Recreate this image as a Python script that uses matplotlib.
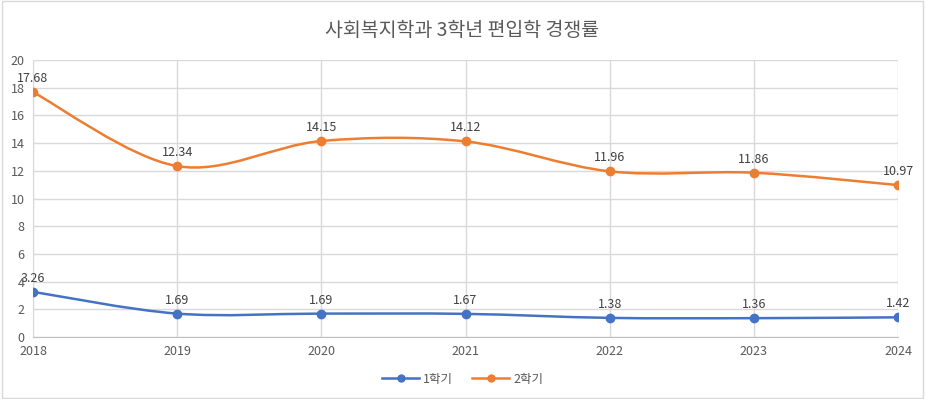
import matplotlib
matplotlib.use("Agg")
import matplotlib.pyplot as plt
from matplotlib.path import Path
from matplotlib.patches import PathPatch, Rectangle
from matplotlib.lines import Line2D
import numpy as np

plt.rcParams['font.family'] = ['Noto Sans CJK KR', 'DejaVu Sans']

# data
years = [2018, 2019, 2020, 2021, 2022, 2023, 2024]
sem1 = [3.26, 1.69, 1.69, 1.67, 1.38, 1.36, 1.42]
sem2 = [17.68, 12.34, 14.15, 14.12, 11.96, 11.86, 10.97]
series_names = ["1학기", "2학기"]
colors = ["#4472C4", "#ED7D31"]
title = "사회복지학과 3학년 편입학 경쟁률"


def smooth_path(x, y):
    # Excel-like smoothed line: cubic bezier segments, control points from neighbours
    x = np.asarray(x, float)
    y = np.asarray(y, float)
    n = len(x)
    verts = [(x[0], y[0])]
    codes = [Path.MOVETO]
    for i in range(n - 1):
        p0 = np.array([x[max(i - 1, 0)], y[max(i - 1, 0)]])
        p1 = np.array([x[i], y[i]])
        p2 = np.array([x[i + 1], y[i + 1]])
        p3 = np.array([x[min(i + 2, n - 1)], y[min(i + 2, n - 1)]])
        c1 = p1 + (p2 - p0) / 6.0
        c2 = p2 - (p3 - p1) / 6.0
        verts += [tuple(c1), tuple(c2), tuple(p2)]
        codes += [Path.CURVE4] * 3
    return Path(verts, codes)


fig = plt.figure(figsize=(9.25, 3.99), dpi=100)
ax = fig.add_axes([33 / 925, 1 - 337 / 399, 865 / 925, 277 / 399])

for vals, c in zip([sem1, sem2], colors):
    ax.add_patch(PathPatch(smooth_path(years, vals), facecolor="none",
                           edgecolor=c, lw=1.8, zorder=3))
    ax.plot(years, vals, ls="none", marker="o", ms=6, color=c, zorder=4)
    for xv, yv in zip(years, vals):
        ax.annotate("%.2f" % yv, (xv, yv), xytext=(0, 5), textcoords="offset points",
                    ha="center", va="bottom", fontsize=9, color="#404040", zorder=5)

ax.set_xlim(2018, 2024)
ax.set_ylim(0, 20)
ax.set_xticks(years)
ax.set_yticks(np.arange(0, 21, 2))
ax.grid(True, color="#D9D9D9", lw=1)
ax.set_axisbelow(True)
for s in ["top", "right"]:
    ax.spines[s].set_visible(False)
ax.spines["left"].set_color("#D9D9D9")
ax.spines["bottom"].set_color("#BFBFBF")
ax.tick_params(length=0, labelsize=9, colors="#595959", pad=6)

fig.suptitle(title, y=0.95, fontsize=14, color="#595959")

handles = [Line2D([0], [0], color=c, lw=1.8, marker="o", ms=5) for c in colors]
fig.legend(handles, series_names, loc="center", bbox_to_anchor=(0.5, 1 - 379 / 399),
           ncol=2, frameon=False, fontsize=9, labelcolor="#595959",
           handlelength=3, columnspacing=1.5, handletextpad=0.3)

fig.patches.append(Rectangle((0.002, 0.003), 0.996, 0.994, transform=fig.transFigure,
                             fill=False, edgecolor="#D9D9D9", lw=1))

fig.savefig("out.png", dpi=100)
